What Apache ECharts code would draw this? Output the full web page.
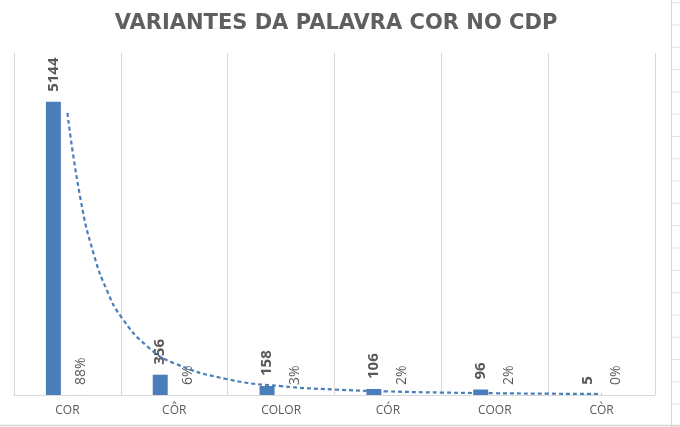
<!DOCTYPE html>
<html>
<head>
<meta charset="utf-8">
<script src="https://cdn.jsdelivr.net/npm/echarts@6/dist/echarts.min.js"></script>
<style>html,body{margin:0;padding:0;background:#fff}#c{width:680px;height:427px}</style>
</head>
<body>
<div id="c"></div>
<script>
// Data
var categories = ['COR', 'CÔR', 'COLOR', 'CÓR', 'COOR', 'CÒR'];
var counts = [5144, 356, 158, 106, 96, 5];
var percents = [88, 6, 3, 2, 2, 0];
// Dashed trendline, points (x = category position 1..6)
var trendX = [1, 1.125, 1.25, 1.375, 1.5, 1.75, 2, 2.5, 3, 3.5, 4, 4.5, 5, 5.5, 6];
var trendY = [4948, 3414, 2449, 1814, 1379, 849, 557, 276, 155, 96, 63, 43, 31, 23, 17.5];

var blue = '#4a7ebb';
var gray = '#595959';

var chart = echarts.init(document.getElementById('c'), null, {renderer: 'canvas'});

var ticks = [];
for (var k = 0; k < 20; k++) {
  var y = 2.7 + k * 22.3;
  ticks.push({type: 'line', shape: {x1: 672, y1: y, x2: 680, y2: y}, style: {stroke: '#e3e3e3', lineWidth: 1}, silent: true});
}

chart.setOption({
  animation: false,
  backgroundColor: '#fff',
  title: {
    text: 'VARIANTES DA PALAVRA COR NO CDP',
    left: 331, top: 8, textAlign: 'center',
    textStyle: {fontFamily: 'DejaVu Sans', fontWeight: 'bold', fontSize: 21, color: '#5f5f5f'}
  },
  grid: {left: 14, right: 25, top: 53, bottom: 32, containLabel: false},
  xAxis: [{
    type: 'category', data: categories,
    axisLine: {lineStyle: {color: '#d9d9d9'}},
    axisTick: {show: false},
    splitLine: {show: true, lineStyle: {color: '#d9d9d9'}},
    axisLabel: {color: gray, fontFamily: 'Open Sans', fontSize: 12, margin: 10}
  }, {
    type: 'value', min: 0.5, max: 6.5, show: false
  }],
  yAxis: {
    type: 'value', min: 0, max: 6000, show: false,
    splitLine: {show: false}
  },
  graphic: [
    {type: 'line', shape: {x1: 671.5, y1: 0, x2: 671.5, y2: 427}, style: {stroke: '#d9d9d9', lineWidth: 1}, silent: true},
    {type: 'line', shape: {x1: 0, y1: 425.5, x2: 680, y2: 425.5}, style: {stroke: '#d4d4d4', lineWidth: 1.5}, silent: true}
  ].concat(ticks),
  series: [{
    type: 'bar', data: counts, barWidth: 15, barGap: '87%',
    itemStyle: {color: blue},
    label: {
      show: true, position: 'top', rotate: 90, distance: 10,
      align: 'left', verticalAlign: 'middle',
      color: gray, fontFamily: 'Open Sans', fontWeight: 'bold', fontSize: 15
    },
    z: 2
  }, {
    type: 'bar', data: percents.map(function (v) { return v / 100; }), barWidth: 15,
    itemStyle: {color: blue},
    label: {
      show: true, position: 'top', rotate: 90, distance: 10,
      align: 'left', verticalAlign: 'middle',
      color: gray, fontFamily: 'Open Sans', fontSize: 14,
      formatter: function (p) { return percents[p.dataIndex] + '%'; }
    },
    z: 2
  }, {
    type: 'line', xAxisIndex: 1, smooth: true, symbol: 'none',
    data: trendX.map(function (x, i) { return [x, trendY[i]]; }),
    lineStyle: {color: blue, width: 2.2, type: [4, 3]},
    z: 3
  }]
});
</script>
</body>
</html>
